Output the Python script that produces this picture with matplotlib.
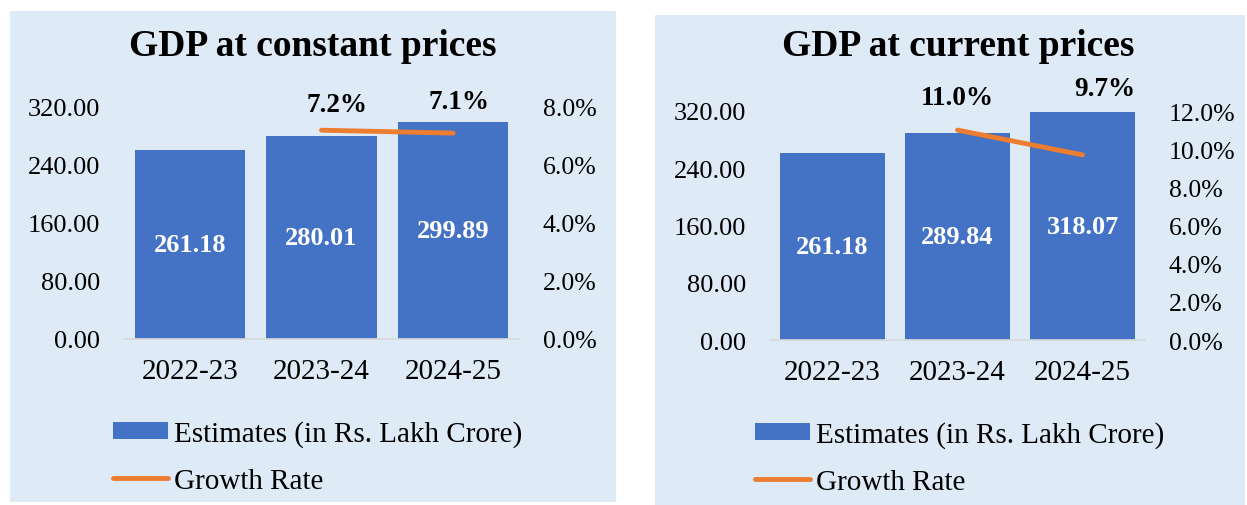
import matplotlib
matplotlib.use("Agg")
import matplotlib.pyplot as plt
from matplotlib.patches import Rectangle

plt.rcParams['font.family'] = ['Liberation Serif', 'DejaVu Serif']

# data
years = ['2022-23', '2023-24', '2024-25']
const_estimates = [261.18, 280.01, 299.89]
const_growth = [7.2, 7.1]          # for 2023-24, 2024-25
curr_estimates = [261.18, 289.84, 318.07]
curr_growth = [11.0, 9.7]

BAR = '#4472C4'
LINE = '#ED7D31'
BG = '#DEEBF7'

W, H = 1247, 506
fig = plt.figure(figsize=(W / 100, H / 100), dpi=100)


def px(x0, y0, x1, y1):
    # pixel box (top-left origin) -> figure fractions
    return [x0 / W, 1 - y1 / H, (x1 - x0) / W, (y1 - y0) / H]


def panel(bg_box, ax_box, title, title_xy, est, growth, gmax, goffsets, leg_xy):
    fig.patches.append(Rectangle((bg_box[0], bg_box[1]), bg_box[2], bg_box[3],
                                 transform=fig.transFigure, facecolor=BG,
                                 edgecolor='none', zorder=-10))
    ax = fig.add_axes(ax_box)
    ax.set_facecolor('none')
    x = range(len(years))
    bars = ax.bar(x, est, width=0.84, color=BAR, label='Estimates (in Rs. Lakh Crore)', zorder=2)
    for b, v in zip(bars, est):
        ax.text(b.get_x() + b.get_width() / 2, v / 2, f'{v:.2f}', ha='center', va='center',
                color='white', fontsize=19, fontweight='bold', zorder=3)
    ax.set_xlim(-0.5, len(years) - 0.5)
    ax.set_ylim(0, 320)
    ax.set_yticks([0, 80, 160, 240, 320])
    ax.set_yticklabels([f'{t:.2f}' for t in [0, 80, 160, 240, 320]])
    ax.set_xticks(list(x))
    ax.set_xticklabels(years)
    ax.tick_params(axis='y', length=0, pad=17, labelsize=19)
    ax.tick_params(axis='x', length=0, pad=14, labelsize=21)
    for s in ['top', 'right', 'left']:
        ax.spines[s].set_visible(False)
    ax.spines['bottom'].set_color('#D9D9D9')
    ax.spines['bottom'].set_linewidth(1.2)

    ax2 = ax.twinx()
    gx = list(x)[1:]
    line, = ax2.plot(gx, growth, color=LINE, lw=3.5, solid_capstyle='round',
                     label='Growth Rate', zorder=4)
    ax2.set_ylim(0, gmax)
    ticks = list(range(0, gmax + 1, 2))
    ax2.set_yticks(ticks)
    ax2.set_yticklabels([f'{t:.1f}%' for t in ticks])
    ax2.tick_params(axis='y', length=0, pad=17, labelsize=18.5)
    for s in ax2.spines.values():
        s.set_visible(False)
    for xi, g, off in zip(gx, growth, goffsets):
        ax2.annotate(f'{g:.1f}%', (xi, g), xytext=off, textcoords='offset points',
                     ha='center', va='center', fontsize=19.5, fontweight='bold')

    fig.text(title_xy[0] / W, 1 - title_xy[1] / H, title, ha='center', va='center',
             fontsize=27, fontweight='bold')
    fig.legend([bars, line], ['Estimates (in Rs. Lakh Crore)', 'Growth Rate'],
               loc='upper left', bbox_to_anchor=(leg_xy[0] / W, 1 - leg_xy[1] / H),
               frameon=False, fontsize=21, handlelength=1.9, handleheight=0.55,
               handletextpad=0.18, labelspacing=0.72, borderpad=0, borderaxespad=0)


panel((10 / W, 1 - 503 / H, 606 / W, 491 / H), px(124, 108, 519, 340),
      'GDP at constant prices', (313, 47), const_estimates, const_growth, 8,
      [(10.8, 18.7), (4.3, 23)], (113, 421))
panel((655 / W, 1 - 506 / H, 590 / W, 490 / H), px(770, 112, 1145, 341),
      'GDP at current prices', (958, 47), curr_estimates, curr_growth, 12,
      [(0, 23.8), (15.8, 47.5)], (755, 422))

fig.savefig('out.png', dpi=100, facecolor='white')
